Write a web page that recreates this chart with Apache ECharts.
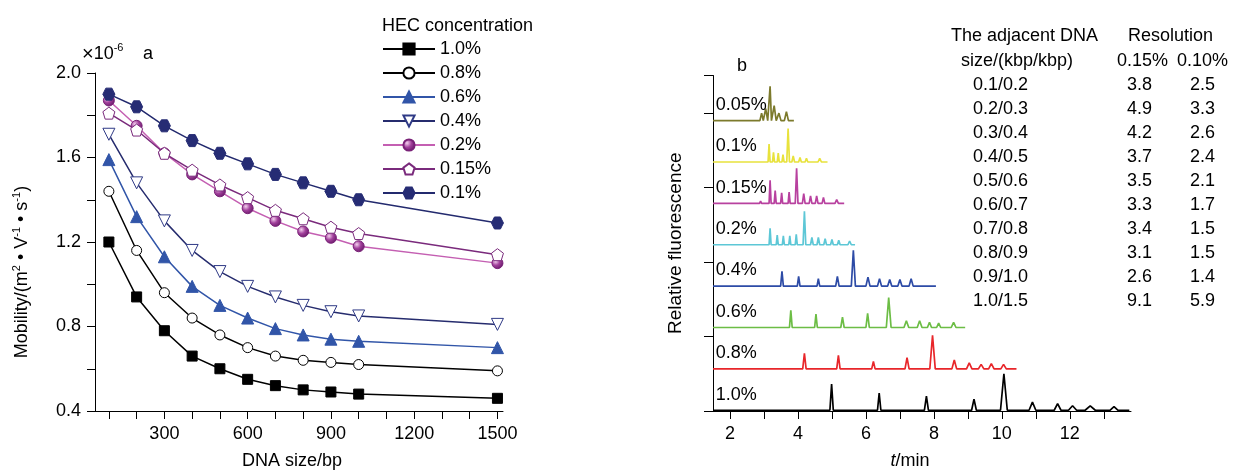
<!DOCTYPE html>
<html>
<head>
<meta charset="utf-8">
<script src="https://cdn.jsdelivr.net/npm/echarts@6/dist/echarts.min.js"></script>
<style>
  html, body { margin: 0; padding: 0; background: #fff; }
  #chart { width: 1234px; height: 475px; }
</style>
</head>
<body>
<div id="chart"></div>
<script>
// panel a: mobility vs DNA size
const sizes = [100, 200, 300, 400, 500, 600, 700, 800, 900, 1000, 1500];
const mob10 = [1.20, 0.94, 0.78, 0.66, 0.60, 0.55, 0.52, 0.50, 0.49, 0.48, 0.46];
const mob08 = [1.44, 1.16, 0.96, 0.84, 0.76, 0.70, 0.66, 0.64, 0.63, 0.62, 0.59];
const mob06 = [1.59, 1.32, 1.13, 0.99, 0.90, 0.84, 0.79, 0.76, 0.74, 0.73, 0.70];
const mob04 = [1.71, 1.48, 1.30, 1.16, 1.06, 0.99, 0.94, 0.90, 0.87, 0.85, 0.81];
const mob02 = [1.87, 1.75, 1.62, 1.52, 1.44, 1.36, 1.30, 1.25, 1.22, 1.18, 1.10];
const mob015 = [1.81, 1.73, 1.62, 1.54, 1.47, 1.41, 1.35, 1.31, 1.27, 1.24, 1.14];
const mob01 = [1.90, 1.84, 1.75, 1.68, 1.62, 1.57, 1.52, 1.48, 1.44, 1.40, 1.29];
const sizeTicks = [100, 200, 300, 400, 500, 600, 700, 800, 900, 1000, 1100, 1200, 1300, 1400, 1500];
const sizeLabels = [300, 600, 900, 1200, 1500];
const mobLabels = [0.4, 0.8, 1.2, 1.6, 2.0];

// panel b: electropherograms, peaks as [t, height, half width]
const traceNames = ['1.0%', '0.8%', '0.6%', '0.4%', '0.2%', '0.15%', '0.1%', '0.05%'];
const traceEnds = [13.75, 10.43, 8.92, 8.06, 5.68, 5.36, 4.87, 3.88];
const p10 = [[4.99, 0.35, 0.05], [6.39, 0.23, 0.05], [7.78, 0.19, 0.06], [9.18, 0.15, 0.07], [10.06, 0.49, 0.1], [10.9, 0.11, 0.1], [11.64, 0.09, 0.1], [12.08, 0.06, 0.12], [12.6, 0.06, 0.15], [13.3, 0.05, 0.12]];
const p08 = [[4.19, 0.21, 0.05], [5.19, 0.18, 0.05], [6.22, 0.10, 0.05], [7.21, 0.15, 0.06], [7.96, 0.45, 0.08], [8.6, 0.12, 0.07], [9.04, 0.08, 0.08], [9.39, 0.06, 0.08], [9.69, 0.07, 0.08], [10.05, 0.06, 0.08]];
const p06 = [[3.79, 0.23, 0.04], [4.53, 0.18, 0.04], [5.31, 0.14, 0.05], [6.05, 0.19, 0.05], [6.67, 0.40, 0.07], [7.19, 0.09, 0.07], [7.58, 0.09, 0.07], [7.87, 0.07, 0.06], [8.14, 0.06, 0.06], [8.58, 0.07, 0.07]];
const p04 = [[3.53, 0.20, 0.04], [4.02, 0.13, 0.04], [4.6, 0.10, 0.04], [5.16, 0.13, 0.05], [5.63, 0.48, 0.06], [6.06, 0.12, 0.06], [6.4, 0.10, 0.06], [6.7, 0.09, 0.06], [7.0, 0.09, 0.06], [7.33, 0.10, 0.06]];
const p02 = [[3.18, 0.22, 0.03], [3.39, 0.13, 0.03], [3.57, 0.12, 0.03], [3.76, 0.12, 0.03], [3.95, 0.14, 0.03], [4.19, 0.45, 0.04], [4.41, 0.10, 0.04], [4.6, 0.10, 0.04], [4.8, 0.08, 0.04], [5.0, 0.07, 0.04], [5.2, 0.06, 0.04], [5.52, 0.05, 0.05]];
const p015 = [[2.9, 0.03, 0.03], [3.18, 0.31, 0.03], [3.33, 0.17, 0.03], [3.52, 0.14, 0.03], [3.74, 0.15, 0.03], [3.96, 0.47, 0.04], [4.17, 0.13, 0.04], [4.37, 0.10, 0.04], [4.55, 0.10, 0.04], [4.75, 0.08, 0.04], [5.14, 0.05, 0.05]];
const p01 = [[3.15, 0.24, 0.03], [3.28, 0.13, 0.03], [3.42, 0.12, 0.03], [3.56, 0.10, 0.03], [3.71, 0.45, 0.04], [3.86, 0.08, 0.04], [4.06, 0.06, 0.04], [4.25, 0.05, 0.04], [4.64, 0.05, 0.05]];
const p005 = [[2.93, 0.10, 0.05], [3.05, 0.16, 0.06], [3.18, 0.46, 0.04], [3.3, 0.20, 0.06], [3.44, 0.10, 0.06], [3.66, 0.12, 0.06]];
const timeTicks = [2, 3, 4, 5, 6, 7, 8, 9, 10, 11, 12, 13];
const timeLabels = [2, 4, 6, 8, 10, 12];

// resolution table
const pairs = ['0.1/0.2', '0.2/0.3', '0.3/0.4', '0.4/0.5', '0.5/0.6', '0.6/0.7', '0.7/0.8', '0.8/0.9', '0.9/1.0', '1.0/1.5'];
const res015 = ['3.8', '4.9', '4.2', '3.7', '3.5', '3.3', '3.4', '3.1', '2.6', '9.1'];
const res010 = ['2.5', '3.3', '2.6', '2.4', '2.1', '1.7', '1.5', '1.5', '1.4', '5.9'];

const FONT = "'Liberation Sans', Arial, sans-serif";
const chart = echarts.init(document.getElementById('chart'));

const pent = 'path://M0,-10 L9.51,-3.09 L5.88,8.09 L-5.88,8.09 L-9.51,-3.09 Z';
const hexa = 'path://M-10,0 L-5,-8.66 L5,-8.66 L10,0 L5,8.66 L-5,8.66 Z';
const invTri = 'path://M-10,-8.66 L10,-8.66 L0,8.66 Z';
const sphere = {
  type: 'radial', x: 0.35, y: 0.35, r: 0.75,
  colorStops: [{ offset: 0, color: '#f4d0ee' }, { offset: 0.45, color: '#a2409c' }, { offset: 1, color: '#5e1460' }]
};

function mobSeries(name, vals, line, symbol, size, fill, border) {
  return {
    name, type: 'line', xAxisIndex: 0, yAxisIndex: 0,
    data: sizes.map((s, i) => [s, vals[i]]),
    symbol, symbolSize: size, showAllSymbol: true,
    lineStyle: { color: line, width: 1.5 },
    itemStyle: { color: fill, borderColor: border, borderWidth: 1 },
    emphasis: { disabled: true }
  };
}

const traceColors = ['#000000', '#e8262a', '#6cbd45', '#2d4ba6', '#5dc7d6', '#b8419f', '#e8e23c', '#7c7a2c'];
const tracePeaks = [p10, p08, p06, p04, p02, p015, p01, p005];
const traceGap = 0.555;
const tStart = 1.5;

function traceSeries(i) {
  const base = i * traceGap + 0.01;
  const pts = [[tStart, base]];
  tracePeaks[i].forEach(([t, h, w]) => {
    pts.push([t - w, base], [t, base + h], [t + w, base]);
  });
  pts.push([traceEnds[i], base]);
  return {
    type: 'line', xAxisIndex: 1, yAxisIndex: 1, data: pts,
    showSymbol: false, symbol: 'none',
    lineStyle: { color: traceColors[i], width: 1.7 },
    emphasis: { disabled: true },
    markPoint: {
      symbol: 'circle', symbolSize: 0, silent: true,
      data: [{ coord: [1.58, base + 0.21] }],
      label: { show: true, position: 'right', distance: 0, formatter: traceNames[i], color: '#000', fontSize: 18, fontFamily: FONT }
    }
  };
}

const graphics = [];
function txt(x, y, text) {
  graphics.push({ type: 'text', x, y, style: { text, fontSize: 18, fontFamily: FONT, fill: '#000', textAlign: 'left', textVerticalAlign: 'middle' } });
}
txt(951, 36, 'The adjacent DNA');
txt(1128, 36, 'Resolution');
txt(961, 61, 'size/(kbp/kbp)');
txt(1117, 61, '0.15%');
txt(1177, 61, '0.10%');
pairs.forEach((p, i) => {
  const y = 85 + i * 24;
  txt(973, y, p);
  txt(1127, y, res015[i]);
  txt(1190, y, res010[i]);
});
txt(737, 66, 'b');
txt(143, 54, 'a');
graphics.push({
  type: 'text', x: 82, y: 54,
  style: {
    text: '{x|×}10{s|-6}', fontSize: 18, fontFamily: FONT, fill: '#000', textVerticalAlign: 'middle',
    rich: {
      x: { fontSize: 20, fontFamily: FONT },
      s: { fontSize: 11, fontFamily: FONT, padding: [0, 0, 12, 0] }
    }
  }
});
graphics.push({
  type: 'text', x: 22, y: 272, rotation: Math.PI / 2,
  style: {
    text: 'Mobility/(m{s|2} • V{s|-1} • s{s|-1})', fontSize: 18, fontFamily: FONT, fill: '#000',
    textAlign: 'center', textVerticalAlign: 'middle',
    rich: { s: { fontSize: 11, fontFamily: FONT, padding: [0, 0, 10, 0] } }
  }
});

const axisBase = {
  axisLine: { show: true, lineStyle: { color: '#000', width: 1 } },
  axisTick: { show: true, length: 8, lineStyle: { color: '#000' } },
  splitLine: { show: false },
  axisLabel: { color: '#000', fontSize: 18, fontFamily: FONT, margin: 14 }
};

const option = {
  animation: false,
  backgroundColor: '#fff',
  title: {
    text: 'HEC concentration', left: 377, top: 12,
    textStyle: { fontSize: 18, fontWeight: 'normal', fontFamily: FONT, color: '#000' }
  },
  legend: {
    orient: 'vertical', left: 377, top: 35,
    data: ['1.0%', '0.8%', '0.6%', '0.4%', '0.2%', '0.15%', '0.1%'],
    itemWidth: 52, itemHeight: 14, itemGap: 6,
    textStyle: { fontSize: 18, fontFamily: FONT, color: '#000', lineHeight: 18 },
    selectedMode: false
  },
  grid: [
    { left: 95, top: 73, width: 408, height: 340 },
    { left: 713, top: 75.5, width: 418, height: 337.5 }
  ],
  xAxis: [
    Object.assign({}, axisBase, {
      gridIndex: 0, type: 'value', min: 50, max: 1520,
      axisTick: { show: true, length: 8, customValues: sizeTicks, lineStyle: { color: '#000' } },
      axisLabel: Object.assign({}, axisBase.axisLabel, { customValues: sizeLabels, formatter: v => String(v) }),
      name: 'DNA size/bp', nameLocation: 'middle', nameGap: 41,
      nameTextStyle: { fontSize: 18, fontFamily: FONT, color: '#000', padding: [0, 14, 0, 0] }
    }),
    Object.assign({}, axisBase, {
      gridIndex: 1, type: 'value', min: 1.5, max: 13.8,
      axisTick: { show: true, length: 8, customValues: timeTicks, lineStyle: { color: '#000' } },
      axisLabel: Object.assign({}, axisBase.axisLabel, { customValues: timeLabels }),
      name: '{i|t}/min', nameLocation: 'middle', nameGap: 41,
      nameTextStyle: { fontSize: 18, fontFamily: FONT, color: '#000', padding: [0, 24, 0, 0], rich: { i: { fontStyle: 'italic', fontSize: 18, fontFamily: FONT } } }
    })
  ],
  yAxis: [
    Object.assign({}, axisBase, {
      gridIndex: 0, type: 'value', min: 0.4, max: 2.0, interval: 0.2,
      axisLabel: Object.assign({}, axisBase.axisLabel, { customValues: mobLabels, formatter: v => v.toFixed(1) })
    }),
    Object.assign({}, axisBase, {
      gridIndex: 1, type: 'value', min: 0, max: 4.5, interval: 1,
      axisTick: { show: true, length: 9, lineStyle: { color: '#000' } },
      axisLabel: { show: false },
      name: 'Relative fluorescence', nameLocation: 'middle', nameGap: 28,
      nameTextStyle: { fontSize: 19, fontFamily: FONT, color: '#000' }
    })
  ],
  graphic: graphics,
  series: [
    mobSeries('1.0%', mob10, '#000', 'rect', 10, '#000', '#000'),
    mobSeries('0.8%', mob08, '#000', 'circle', 10, '#fff', '#000'),
    mobSeries('0.6%', mob06, '#3155a8', 'triangle', 12, '#3155a8', '#3155a8'),
    mobSeries('0.4%', mob04, '#262c6e', invTri, 12, '#fff', '#2f3a86'),
    mobSeries('0.2%', mob02, '#c45fb2', 'circle', 11, sphere, '#7a2278'),
    mobSeries('0.15%', mob015, '#7a2a7c', pent, 12, '#fff', '#7a2a7c'),
    mobSeries('0.1%', mob01, '#232a6e', hexa, 12, '#262c74', '#262c74')
  ].concat(traceNames.map((n, i) => traceSeries(i)))
};

chart.setOption(option);
</script>
</body>
</html>
